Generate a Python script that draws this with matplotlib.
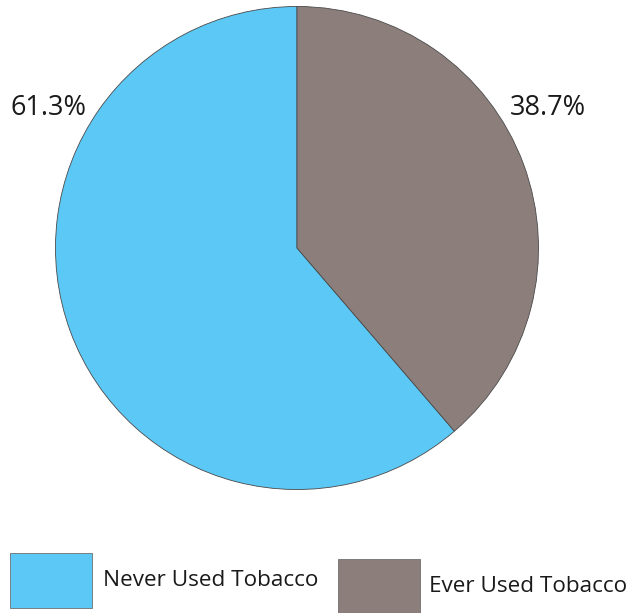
import matplotlib.pyplot as plt
from matplotlib.patches import Rectangle

labels = ["Never Used Tobacco", "Ever Used Tobacco"]
values = [61.3, 38.7]
colors = ["#5bc8f5", "#8c7f7b"]
pct_text = ["61.3%", "38.7%"]

plt.rcParams['font.family'] = ['Open Sans', 'DejaVu Sans']

W, H = 628, 613
fig = plt.figure(figsize=(W / 100, H / 100), dpi=100)

# pie axes: centre ~ (297, 248) px, radius ~ 242 px
cx, cy, r = 297, 248, 242
ax = fig.add_axes([(cx - r) / W, (H - cy - r) / H, 2 * r / W, 2 * r / H])
ax.pie(values, colors=colors, startangle=90, counterclock=True,
       wedgeprops=dict(edgecolor="#4a4a4a", linewidth=0.6))
ax.set_aspect('equal')
ax.set_xlim(-1.002, 1.002)
ax.set_ylim(-1.002, 1.002)

# percentage labels
fig.text(49 / W, 1 - 108 / H, pct_text[0], ha='center', va='center',
         fontsize=19.5, color='#1a1a1a')
fig.text(548 / W, 1 - 108 / H, pct_text[1], ha='center', va='center',
         fontsize=19.5, color='#1a1a1a')

# legend boxes
boxes = [(10, 553, 82, 55), (338, 559, 82, 56)]
text_pos = [(103, 580), (429, 586)]
for (x, y, w, h), (tx, ty), c, lab in zip(boxes, text_pos, colors, labels):
    fig.patches.append(Rectangle((x / W, 1 - (y + h) / H), w / W, h / H,
                                 transform=fig.transFigure, facecolor=c,
                                 edgecolor="#6f6f6f", linewidth=0.6))
    fig.text(tx / W, 1 - ty / H, lab, ha='left', va='center',
             fontsize=16.2, color='#1a1a1a')

fig.savefig("out.png", dpi=100)
